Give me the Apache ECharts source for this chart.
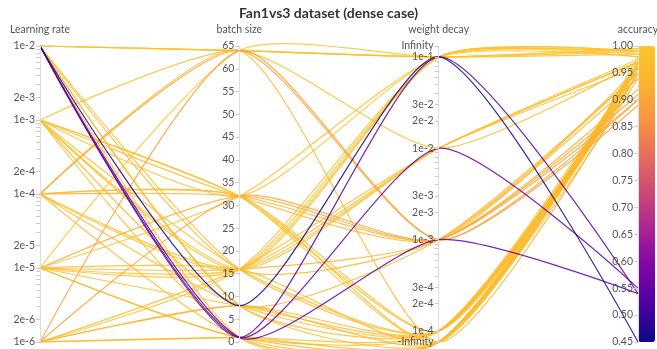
<!DOCTYPE html>
<html>
<head>
<meta charset="utf-8">
<script src="https://cdn.jsdelivr.net/npm/echarts@6/dist/echarts.min.js"></script>
<style>
  html, body { margin: 0; padding: 0; background: #fff; }
  #chart { width: 657px; height: 349px; }
</style>
</head>
<body>
<div id="chart"></div>
<script>
// One entry per run: learning rate, batch size, weight decay (0 = no decay), final accuracy
const learningRate = [
  1e-2, 1e-2, 1e-2, 1e-2,
  1e-2, 1e-2, 1e-2, 1e-2, 1e-2, 1e-2, 1e-2, 1e-2,
  1e-3, 1e-3, 1e-3, 1e-3, 1e-3, 1e-3, 1e-3, 1e-3, 1e-3, 1e-3,
  1e-4, 1e-4, 1e-4, 1e-4, 1e-4, 1e-4, 1e-4, 1e-4, 1e-4,
  1e-5, 1e-5, 1e-5, 1e-5, 1e-5, 1e-5, 1e-5, 1e-5, 1e-5, 1e-5,
  1e-6, 1e-6, 1e-6, 1e-6, 1e-6, 1e-6, 1e-6, 1e-6
];
const batchSize = [
  8, 1, 1, 1,
  64, 64, 64, 16, 8, 16, 1, 8,
  64, 32, 32, 32, 16, 16, 8, 1, 32, 16,
  32, 32, 32, 64, 64, 16, 8, 1, 16,
  16, 16, 16, 64, 32, 8, 1, 1, 32, 16,
  64, 32, 16, 8, 8, 1, 1, 16
];
const weightDecay = [
  1e-1, 1e-1, 1e-3, 1e-2,
  1e-1, 1e-1, 1e-1, 1e-4, 0, 1e-3, 0, 1e-4,
  1e-2, 1e-3, 0, 1e-4, 1e-1, 1e-4, 1e-3, 0, 1e-1, 1e-2,
  1e-3, 1e-4, 0, 1e-3, 0, 1e-1, 1e-4, 0, 1e-2,
  1e-1, 1e-3, 0, 1e-1, 1e-3, 1e-4, 1e-4, 0, 1e-1, 1e-2,
  1e-3, 1e-3, 1e-2, 1e-4, 0, 0, 1e-4, 1e-1
];
const accuracy = [
  0.45, 0.54, 0.54, 0.55,
  0.995, 0.99, 0.985, 0.97, 0.96, 0.95, 0.97, 0.96,
  0.97, 0.96, 0.98, 0.97, 0.99, 0.96, 0.95, 0.96, 0.99, 0.97,
  0.91, 0.97, 0.97, 0.90, 0.95, 0.99, 0.96, 0.96, 0.97,
  0.985, 0.94, 0.96, 0.995, 0.92, 0.965, 0.97, 0.95, 0.98, 0.975,
  0.89, 0.90, 0.96, 0.95, 0.94, 0.95, 0.96, 0.98
];

// Tick labels of the two logarithmic axes
const lrTickLabels = ['1e-2', '2e-3', '1e-3', '2e-4', '1e-4', '2e-5', '1e-5', '2e-6', '1e-6'];
const wdTickLabels = ['1e-1', '3e-2', '2e-2', '1e-2', '3e-3', '2e-3', '1e-3', '3e-4', '2e-4', '1e-4'];

// Weight decay axis: log10 scale, with room above/below for +/-Infinity
const WD_MIN = -4.12, WD_MAX = -0.88;
const LR_MIN = -6, LR_MAX = -2;

const log10 = Math.log10;
const lrTickValues = lrTickLabels.map(s => log10(Number(s)));
const wdTickValues = [WD_MAX].concat(wdTickLabels.map(s => log10(Number(s))), [WD_MIN]);

function minorLogTicks(lo, hi) {
  const out = [];
  for (let e = Math.floor(lo); e <= Math.ceil(hi); e++) {
    for (let k = 1; k <= 9; k++) {
      const v = log10(k) + e;
      if (v >= lo - 1e-9 && v <= hi + 1e-9) out.push(v);
    }
  }
  return out;
}

function wdToAxis(w) {
  if (w <= 0) return WD_MIN;
  if (!isFinite(w)) return WD_MAX;
  return log10(w);
}

function labelFor(labels, v) {
  for (const s of labels) {
    if (Math.abs(log10(Number(s)) - v) < 1e-6) return s;
  }
  return '';
}

// Build rows, lowest accuracy drawn last so it sits on top
const rows = accuracy.map((a, i) => [
  log10(learningRate[i]), batchSize[i], wdToAxis(weightDecay[i]), a
]).sort((p, q) => q[3] - p[3]);

const plasma = ['#0d0887', '#4c02a1', '#7e03a8', '#a92395', '#cc4778', '#e56b5d', '#f89441', '#fdb42f', '#fdc62c'];

const FONT = 'Lato, "Noto Sans", sans-serif';
// labels and ticks sit on the left-hand side of each vertical axis
const axisText = { color: '#555', fontSize: 10.5, fontFamily: FONT, margin: -5, align: 'right' };
const tickBase = { lineStyle: { color: '#ccc' }, length: -4 };

const chart = echarts.init(document.getElementById('chart'), null, { renderer: 'canvas' });

chart.setOption({
  animation: false,
  title: {
    text: 'Fan1vs3 dataset (dense case)',
    left: 'center',
    top: 1,
    textStyle: { fontSize: 14, fontWeight: 'bold', color: '#333', fontFamily: FONT }
  },
  visualMap: {
    type: 'continuous',
    dimension: 3,
    min: 0.45,
    max: 1.0,
    calculable: false,
    show: true,
    left: 638,
    top: 46,
    padding: 0,
    itemWidth: 17,
    itemHeight: 296,
    text: null,
    inRange: { color: plasma }
  },
  parallel: {
    left: 40,
    right: 19,
    top: 46,
    bottom: 7,
    parallelAxisDefault: {
      nameLocation: 'end',
      nameGap: 11,
      nameTextStyle: { color: '#555', fontSize: 10.5, fontFamily: FONT },
      axisLine: { lineStyle: { color: '#ddd', width: 1 } },
      axisTick: tickBase,
      axisLabel: axisText,
      splitLine: { show: false }
    }
  },
  parallelAxis: [
    {
      dim: 0, name: 'Learning rate', type: 'value', min: LR_MIN, max: LR_MAX,
      axisTick: Object.assign({ customValues: minorLogTicks(LR_MIN, LR_MAX) }, tickBase),
      axisLabel: Object.assign({
        customValues: lrTickValues,
        formatter: v => labelFor(lrTickLabels, v)
      }, axisText)
    },
    {
      dim: 1, name: 'batch size', type: 'value', min: 0, max: 65, interval: 5
    },
    {
      dim: 2, name: 'weight decay', type: 'value', min: WD_MIN, max: WD_MAX,
      axisTick: Object.assign({ customValues: [WD_MAX].concat(minorLogTicks(-4, -1), [WD_MIN]) }, tickBase),
      axisLabel: Object.assign({
        customValues: wdTickValues,
        formatter: v => {
          if (Math.abs(v - WD_MAX) < 1e-6) return 'Infinity';
          if (Math.abs(v - WD_MIN) < 1e-6) return '-Infinity';
          return labelFor(wdTickLabels, v);
        }
      }, axisText)
    },
    {
      dim: 3, name: 'accuracy', type: 'value', min: 0.45, max: 1.0, interval: 0.05,
      axisLabel: Object.assign({ formatter: v => v.toFixed(2) }, axisText)
    }
  ],
  series: [{
    type: 'parallel',
    smooth: 0.22,
    lineStyle: { width: 1.2, opacity: 0.85 },
    data: rows
  }]
});
</script>
</body>
</html>
